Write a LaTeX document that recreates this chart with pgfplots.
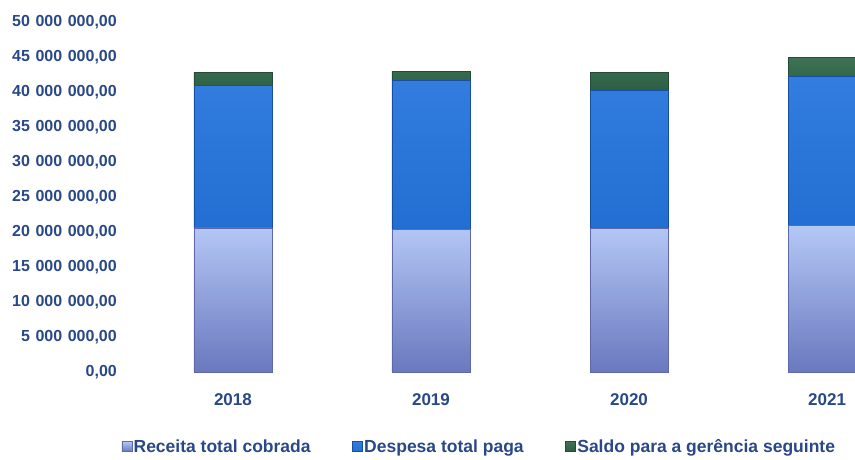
\documentclass[border=0pt]{standalone}
\usepackage{fontspec}
\setmainfont{Liberation Sans}
\usepackage{pgfplots}
\pgfplotsset{compat=1.18}
\definecolor{tickblue}{RGB}{40,72,135}
\definecolor{recTop}{RGB}{180,200,246}
\definecolor{recBot}{RGB}{106,120,190}
\definecolor{recEdge}{RGB}{95,105,170}
\definecolor{desp}{RGB}{34,110,210}
\definecolor{despTop}{RGB}{50,125,222}
\definecolor{despEdge}{RGB}{24,78,160}
\definecolor{saldo}{RGB}{44,94,68}
\definecolor{saldoTop}{RGB}{62,115,85}
\newcommand{\gp}{\hspace{5.6pt}}
\begin{document}
\begin{tikzpicture}
\begin{axis}[name=ax, scale only axis, width=730pt, height=350pt,
  xmin=-0.545, xmax=3.141, ymin=0, ymax=50,
  ybar stacked, bar width=0.394,
  axis line style={draw=none}, major tick length=0pt,
  xtick={0,1,2,3}, xticklabels={2018,2019,2020,2021},
  ytick={0,5,10,15,20,25,30,35,40,45,50},
  yticklabels={{0,00},{5\gp000\gp000,00},{10\gp000\gp000,00},{15\gp000\gp000,00},{20\gp000\gp000,00},{25\gp000\gp000,00},{30\gp000\gp000,00},{35\gp000\gp000,00},{40\gp000\gp000,00},{45\gp000\gp000,00},{50\gp000\gp000,00}},
  y tick label style={inner sep=0pt, font=\bfseries\fontsize{16}{16}\selectfont, text=tickblue},
  yticklabel shift=8pt,
  x tick label style={inner sep=0pt, font=\bfseries\fontsize{17}{17}\selectfont, text=tickblue},
  xticklabel shift=21pt,
  legend style={at={(0.485,-0.214)}, anchor=center, draw=none, fill=none,
    legend columns=3, font=\bfseries\fontsize{17.5}{18}\selectfont, text=tickblue,
    nodes={inner sep=1.5pt},
    /tikz/every even column/.append style={column sep=40pt}},
  legend image code/.code={\fill[#1] (0pt,-4.5pt) rectangle (10pt,5.5pt);},
]
\addplot[top color=recTop, bottom color=recBot, draw=recEdge, line width=0.6pt]
  coordinates {(0,20.6) (1,20.4) (2,20.5) (3,20.9)};
\addlegendentry{Receita total cobrada}
\addplot[top color=despTop, bottom color=desp, draw=despEdge, line width=0.6pt]
  coordinates {(0,20.4) (1,21.3) (2,19.7) (3,21.3)};
\addlegendentry{Despesa total paga}
\addplot[top color=saldoTop, bottom color=saldo, draw=saldo!80!black, line width=0.6pt]
  coordinates {(0,1.8) (1,1.3) (2,2.6) (3,2.8)};
\addlegendentry{Saldo para a gerência seguinte}
\end{axis}
\pgfresetboundingbox
\path[use as bounding box] (ax.south west) ++(-125pt,-87pt) rectangle ++(855pt,459pt);
\end{tikzpicture}
\end{document}
